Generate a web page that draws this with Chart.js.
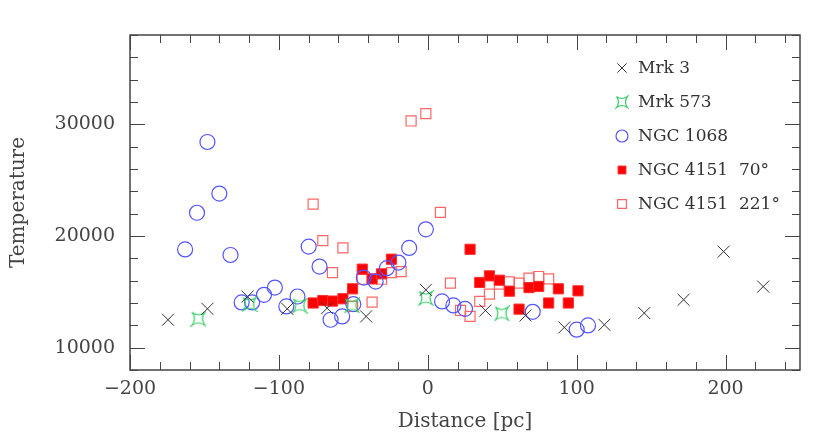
<!DOCTYPE html>
<html>
<head>
<meta charset="utf-8">
<script src="https://cdn.jsdelivr.net/npm/chart.js@4/dist/chart.umd.min.js"></script>
<style>
  html, body { margin: 0; padding: 0; background: #fff; }
</style>
</head>
<body>
<canvas id="chart" width="830" height="448"></canvas>
<script>
// values
const mrk3X = [-174.5, -148, -121, -94.4, -67.6, -41.4, -1.3, 38.7, 65.6, 91.7, 118.6, 145.4, 171.8, 198.7, 225.3];
const mrk3Y = [12500, 13480, 14580, 13480, 13540, 12800, 15180, 13330, 12880, 11810, 12050, 13100, 14290, 18600, 15470];

const mrk573X = [-154, -119.7, -86, -51, -1.3, 49.7];
const mrk573Y = [12590, 13900, 13770, 13780, 14440, 13060];

const ngc1068X = [-163, -155, -148, -140, -132.5, -125, -118, -110, -102.7, -95, -87.5, -80, -72.7, -65.3,
  -57.5, -50, -43, -35, -27.5, -19.7, -12.5, -1.3, 9.6, 17.2, 25, 70.5, 100, 107.6];
const ngc1068Y = [18800, 22080, 28420, 23800, 18300, 14050, 14050, 14730, 15380, 13690, 14580, 19050, 17260, 12500,
  12800, 13900, 16280, 15920, 17120, 17620, 18930, 20600, 14140, 13780, 13480, 13210, 11610, 11990];

const ngc4151aX = [-77, -70.5, -64, -57, -50.5, -44, -37.4, -31, -24.4, 28.4, 34.9, 41.4, 48.1, 54.8, 61.3,
  68, 74.5, 81.2, 87.7, 94.4, 100.9];
const ngc4151aY = [14000, 14220, 14170, 14380, 15270, 17030, 16160, 16610, 17920, 18810, 15840, 16430, 16040, 15060, 13450,
  15380, 15480, 14000, 15270, 14000, 15090];

const ngc4151bX = [-77, -70.5, -64, -57, -50.5, -44, -37.4, -31, -24.4, -17.9, -11.2, -1.3, 8.5, 15.2, 22, 28.4,
  34.9, 41.4, 48.1, 54.8, 61.3, 68, 74.5, 81.2];
const ngc4151bY = [22860, 19580, 16720, 18930, 13690, 16130, 14080, 16130, 16720, 16810, 30300, 30960, 22120, 15780, 13330, 12800,
  14140, 14790, 15690, 15890, 15780, 16220, 16370, 16160];

const seriesNames = [`Mrk 3`, `Mrk 573`, `NGC 1068`, `NGC 4151  70°`, `NGC 4151  221°`];

const xTicks = [-200, -100, 0, 100, 200];
const yTicks = [10000, 20000, 30000];
const X_MIN = -200, X_MAX = 250, Y_MIN = 8000, Y_MAX = 38000;

const toPoints = (xs, ys) => xs.map((x, i) => ({x, y: ys[i]}));

// concave four-point star used for Mrk 573
const makeStar = (size, color) => {
  const cnv = document.createElement(`canvas`);
  cnv.width = cnv.height = size;
  const g = cnv.getContext(`2d`);
  const c = size / 2, r = size / 2 - 1.5, d = 1.5;
  g.strokeStyle = color;
  g.lineWidth = 1.2;
  g.beginPath();
  g.moveTo(c - r, c - r);
  g.quadraticCurveTo(c, c - d, c + r, c - r);
  g.quadraticCurveTo(c + d, c, c + r, c + r);
  g.quadraticCurveTo(c, c + d, c - r, c + r);
  g.quadraticCurveTo(c - d, c, c - r, c - r);
  g.stroke();
  return cnv;
};
const starBig = makeStar(16, `#33cc66`);
const starSmall = makeStar(14, `#33cc66`);

const styles = [
  {pointStyle: `crossRot`, radius: 8.5, color: `#333333`, fill: `transparent`, width: 1, legendRadius: 6.5},
  {pointStyle: starBig, radius: 8, color: `#33cc66`, fill: `transparent`, width: 1, legendStyle: starSmall},
  {pointStyle: `circle`, radius: 7.5, color: `#5555ff`, fill: `transparent`, width: 1.2, legendRadius: 6},
  {pointStyle: `rect`, radius: 7.2, color: `#ff3030`, fill: `#ff0000`, width: 1, legendRadius: 5.6},
  {pointStyle: `rect`, radius: 7.1, color: `#ff6666`, fill: `transparent`, width: 1.2, legendRadius: 6.2},
];

const allData = [
  toPoints(mrk3X, mrk3Y),
  toPoints(mrk573X, mrk573Y),
  toPoints(ngc1068X, ngc1068Y),
  toPoints(ngc4151aX, ngc4151aY),
  toPoints(ngc4151bX, ngc4151bY),
];

const FONT = `'DejaVu Serif', 'Liberation Serif', serif`;
const INK = `#444444`;

// inward ticks on all four sides plus the frame
const frameTicks = {
  id: `frameTicks`,
  afterDatasetsDraw(chart) {
    const {ctx, chartArea: a, scales: {x, y}} = chart;
    ctx.save();
    ctx.strokeStyle = INK;
    ctx.lineWidth = 1;
    ctx.beginPath();
    for (let v = X_MIN; v <= X_MAX; v += 20) {
      const px = Math.round(x.getPixelForValue(v)) + 0.5;
      const len = v % 100 === 0 ? 15 : 8;
      ctx.moveTo(px, a.bottom); ctx.lineTo(px, a.bottom - len);
      ctx.moveTo(px, a.top); ctx.lineTo(px, a.top + len);
    }
    for (let v = Y_MIN; v <= Y_MAX; v += 2000) {
      const py = Math.round(y.getPixelForValue(v)) + 0.5;
      const len = v % 10000 === 0 ? 15 : 8;
      ctx.moveTo(a.left, py); ctx.lineTo(a.left + len, py);
      ctx.moveTo(a.right, py); ctx.lineTo(a.right - len, py);
    }
    ctx.stroke();
    ctx.lineWidth = 1.5;
    ctx.strokeRect(a.left, a.top, a.right - a.left, a.bottom - a.top);
    ctx.restore();
  }
};

// legend in the top right corner of the plot
const insideLegend = {
  id: `insideLegend`,
  afterDraw(chart) {
    const {ctx} = chart;
    ctx.save();
    ctx.font = `17px ${FONT}`;
    ctx.textBaseline = `middle`;
    seriesNames.forEach((name, i) => {
      const st = styles[i];
      const yy = 68 + i * 34;
      ctx.strokeStyle = st.color;
      ctx.fillStyle = st.fill;
      ctx.lineWidth = st.width;
      Chart.helpers.drawPoint(ctx, {
        pointStyle: st.legendStyle || st.pointStyle,
        radius: st.legendRadius || 6,
        borderWidth: st.width,
        rotation: 0,
      }, 622, yy);
      ctx.fillStyle = `#333333`;
      ctx.fillText(name, 638, yy + 1);
    });
    ctx.restore();
  }
};

const minus = (v) => String(v).replace(`-`, `\u2212`);

new Chart(document.getElementById(`chart`), {
  type: `scatter`,
  plugins: [frameTicks, insideLegend],
  data: {
    datasets: allData.map((pts, i) => ({
      label: seriesNames[i],
      data: pts,
      pointStyle: styles[i].pointStyle,
      pointRadius: styles[i].radius,
      pointHoverRadius: styles[i].radius,
      borderColor: styles[i].color,
      backgroundColor: styles[i].fill,
      pointBorderWidth: styles[i].width,
    }))
  },
  options: {
    responsive: false,
    animation: false,
    layout: {
      padding: {top: 35, right: 30, left: 0, bottom: 0}
    },
    plugins: {
      legend: {display: false},
      tooltip: {enabled: false},
    },
    scales: {
      x: {
        type: `linear`,
        min: X_MIN,
        max: X_MAX,
        afterBuildTicks: (s) => { s.ticks = xTicks.map((value) => ({value})); },
        afterFit: (s) => { s.height = 78; },
        grid: {display: false, drawTicks: false},
        border: {display: false},
        ticks: {
          padding: 8,
          color: INK,
          font: {family: FONT, size: 19},
          maxRotation: 0,
          callback: (v) => minus(v),
        },
        title: {
          display: true,
          text: `Distance [pc]`,
          color: INK,
          font: {family: FONT, size: 20},
          padding: {top: 0, bottom: 14},
        },
      },
      y: {
        type: `linear`,
        min: Y_MIN,
        max: Y_MAX,
        afterBuildTicks: (s) => { s.ticks = yTicks.map((value) => ({value})); },
        afterFit: (s) => { s.width = 130; },
        grid: {display: false, drawTicks: false},
        border: {display: false},
        ticks: {
          padding: 15,
          color: INK,
          font: {family: FONT, size: 19},
          callback: (v) => String(v),
        },
        title: {
          display: true,
          text: `Temperature`,
          color: INK,
          font: {family: FONT, size: 20},
          padding: {top: 7, bottom: 0},
        },
      },
    },
  },
});
</script>
</body>
</html>
